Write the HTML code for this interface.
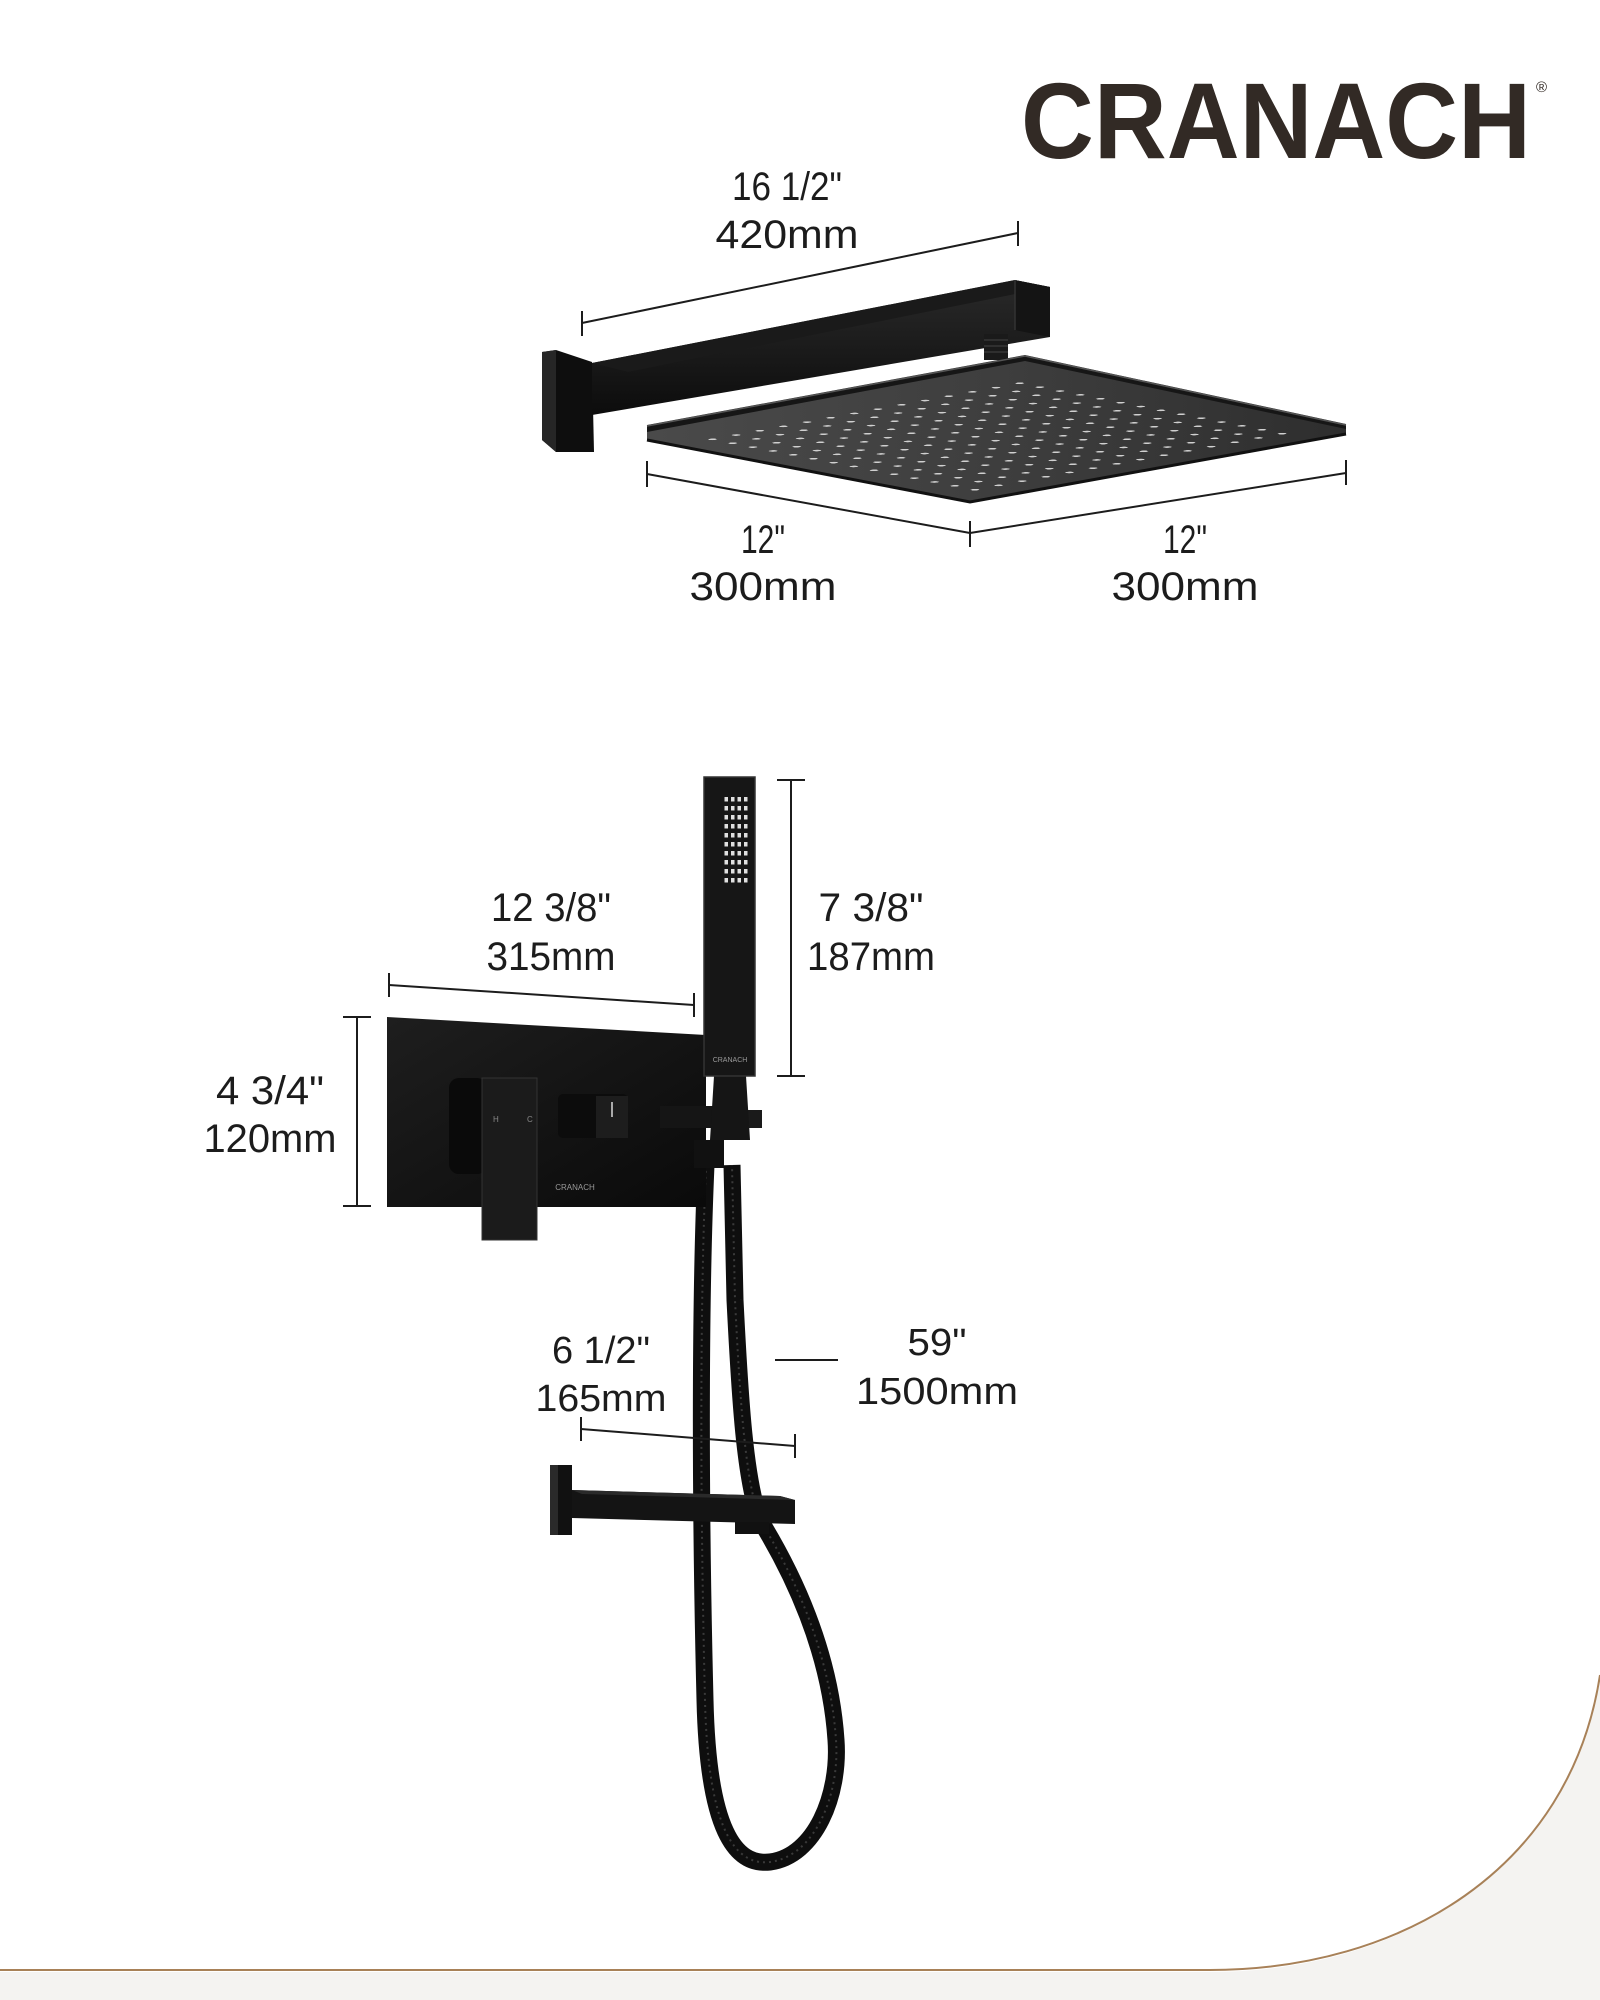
<!DOCTYPE html>
<html><head><meta charset="utf-8">
<style>
html,body{margin:0;padding:0;background:#fff;}
svg{display:block;}
text{font-family:"Liberation Sans",sans-serif;fill:#1c1c1c;}
</style></head>
<body>
<svg width="1600" height="2000" viewBox="0 0 1600 2000" xmlns="http://www.w3.org/2000/svg">
<defs>
  <pattern id="noz" patternUnits="userSpaceOnUse" width="0.0625" height="0.0625">
    <circle cx="0.031" cy="0.031" r="0.0085" fill="#d0d0d0"/>
  </pattern>
  <pattern id="hdots" patternUnits="userSpaceOnUse" x="724" y="796" width="6.5" height="9">
    <rect x="0.5" y="1" width="3.5" height="4.5" fill="#e0e0e0"/>
  </pattern>
  <linearGradient id="armg" x1="0" y1="0" x2="0" y2="1">
    <stop offset="0" stop-color="#2a2a2a"/><stop offset="1" stop-color="#0c0c0c"/>
  </linearGradient>
  <linearGradient id="plateg" x1="0" y1="0" x2="1" y2="1">
    <stop offset="0" stop-color="#1e1e1e"/><stop offset="1" stop-color="#0a0a0a"/>
  </linearGradient>
  <linearGradient id="headg" x1="0" y1="0" x2="1" y2="0">
    <stop offset="0" stop-color="#4a4a4a"/><stop offset="0.5" stop-color="#3e3e3e"/><stop offset="1" stop-color="#2e2e2e"/>
  </linearGradient>
</defs>

<!-- background bottom curve -->
<path d="M0 1972 L1210 1972 C1400 1972 1570 1870 1600 1675 L1600 2000 L0 2000 Z" fill="#f4f3f1"/>
<path d="M0 1970 L1210 1970 C1400 1970 1570 1870 1600 1675" fill="none" stroke="#a88158" stroke-width="2"/>

<!-- Logo -->
<text x="1021" y="158" font-size="108" font-weight="bold" textLength="510" lengthAdjust="spacingAndGlyphs" style="fill:#322a25">CRANACH</text>
<text x="1536" y="92" font-size="15" style="fill:#322a25">®</text>

<!-- ===== Top shower arm & head ===== -->
<g stroke="#1c1c1c" stroke-width="2">
  <line x1="582" y1="323" x2="1018" y2="233"/>
  <line x1="582" y1="311" x2="582" y2="336"/>
  <line x1="1018" y1="221" x2="1018" y2="246"/>
</g>
<text x="787" y="200" font-size="40" text-anchor="middle" textLength="110" lengthAdjust="spacingAndGlyphs">16 1/2"</text>
<text x="787" y="248" font-size="40" text-anchor="middle" textLength="143" lengthAdjust="spacingAndGlyphs">420mm</text>

<polygon points="542,352 556,350 592,362 594,452 556,452 542,440" fill="#0e0e0e"/>
<polygon points="542,352 556,350 556,452 542,440" fill="#262626"/>
<polygon points="592,363 1015,280 1050,287 1050,337 592,415" fill="url(#armg)"/>
<polygon points="592,363 1015,280 1050,287 628,372" fill="#1a1a1a"/>
<polygon points="1015,280 1050,287 1050,337 1015,330" fill="#141414"/>
<line x1="1015" y1="280" x2="1015" y2="330" stroke="#333" stroke-width="1.5"/>
<rect x="984" y="334" width="24" height="26" fill="#1a1a1a"/>
<g stroke="#444" stroke-width="1"><line x1="984" y1="340" x2="1008" y2="340"/><line x1="984" y1="346" x2="1008" y2="346"/><line x1="984" y1="352" x2="1008" y2="352"/></g>
<polygon points="647,425 1025,355 1346,424 1346,434 970,502 647,440" fill="#161616"/>
<polygon points="647,432 1025,361 1346,429 1346,434 970,502 647,440" fill="url(#headg)"/>
<polyline points="647,426 1025,356 1346,425" fill="none" stroke="#555" stroke-width="1.5"/>
<polyline points="647,440 970,502 1346,434" fill="none" stroke="#111" stroke-width="3"/>
<g transform="matrix(323,62,378,-69,647,440)">
  <rect x="0.06" y="0.06" width="0.88" height="0.88" fill="url(#noz)"/>
</g>
<g stroke="#1c1c1c" stroke-width="2">
  <line x1="647" y1="474" x2="970" y2="533"/>
  <line x1="970" y1="533" x2="1346" y2="473"/>
  <line x1="647" y1="461" x2="647" y2="487"/>
  <line x1="970" y1="521" x2="970" y2="547"/>
  <line x1="1346" y1="460" x2="1346" y2="485"/>
</g>
<text x="763" y="553" font-size="40" text-anchor="middle" textLength="44" lengthAdjust="spacingAndGlyphs">12"</text>
<text x="763" y="600" font-size="40" text-anchor="middle" textLength="147" lengthAdjust="spacingAndGlyphs">300mm</text>
<text x="1185" y="553" font-size="40" text-anchor="middle" textLength="44" lengthAdjust="spacingAndGlyphs">12"</text>
<text x="1185" y="600" font-size="40" text-anchor="middle" textLength="147" lengthAdjust="spacingAndGlyphs">300mm</text>

<!-- ===== Mixer / hand shower ===== -->
<path d="M706 1165 C700 1300 700 1500 705 1700 C708 1830 735 1866 770 1862 C815 1856 840 1795 836 1740 C830 1650 792 1572 760 1520 C745 1480 740 1400 735 1300 L732 1165" fill="none" stroke="#0e0e0e" stroke-width="17"/>
<path d="M706 1165 C700 1300 700 1500 705 1700 C708 1830 735 1866 770 1862 C815 1856 840 1795 836 1740 C830 1650 792 1572 760 1520 C745 1480 740 1400 735 1300 L732 1165" fill="none" stroke="#3a3a3a" stroke-width="2" stroke-dasharray="2 4"/>

<polygon points="387,1017 706,1035 706,1207 387,1207" fill="url(#plateg)"/>
<rect x="449" y="1078" width="38" height="96" rx="10" fill="#0a0a0a"/>
<rect x="482" y="1078" width="55" height="162" fill="#1b1b1b"/>
<rect x="482" y="1078" width="55" height="162" fill="none" stroke="#333" stroke-width="1"/>
<text x="493" y="1122" font-size="8" style="fill:#888">H</text>
<text x="527" y="1122" font-size="8" style="fill:#888">C</text>
<rect x="558" y="1094" width="70" height="44" rx="5" fill="#0c0c0c"/>
<rect x="596" y="1096" width="32" height="42" fill="#1d1d1d"/>
<line x1="612" y1="1102" x2="612" y2="1117" stroke="#aaa" stroke-width="2"/>
<text x="575" y="1190" font-size="8" text-anchor="middle" style="fill:#999">CRANACH</text>

<rect x="660" y="1106" width="80" height="22" fill="#151515"/>
<rect x="740" y="1110" width="22" height="18" fill="#1a1a1a"/>
<polygon points="714,1076 746,1076 750,1140 710,1140" fill="#151515"/>
<rect x="694" y="1140" width="30" height="28" fill="#111"/>

<rect x="704" y="777" width="51" height="299" fill="#161616"/>
<rect x="704" y="777" width="51" height="299" fill="none" stroke="#333" stroke-width="1.5"/>
<rect x="724" y="796" width="26" height="91" fill="url(#hdots)"/>
<text x="730" y="1062" font-size="7" text-anchor="middle" style="fill:#999">CRANACH</text>

<rect x="550" y="1465" width="22" height="70" fill="#111"/>
<rect x="550" y="1465" width="8" height="70" fill="#2a2a2a"/>
<polygon points="572,1490 780,1496 795,1500 795,1524 572,1518" fill="#141414"/>
<polygon points="572,1490 780,1496 795,1500 582,1494" fill="#2a2a2a"/>
<rect x="735" y="1522" width="34" height="12" fill="#111"/>

<g stroke="#1c1c1c" stroke-width="2">
  <line x1="389" y1="985" x2="694" y2="1005"/>
  <line x1="389" y1="973" x2="389" y2="997"/>
  <line x1="694" y1="993" x2="694" y2="1017"/>
  <line x1="791" y1="780" x2="791" y2="1076"/>
  <line x1="777" y1="780" x2="805" y2="780"/>
  <line x1="777" y1="1076" x2="805" y2="1076"/>
  <line x1="357" y1="1017" x2="357" y2="1206"/>
  <line x1="343" y1="1017" x2="371" y2="1017"/>
  <line x1="343" y1="1206" x2="371" y2="1206"/>
  <line x1="581" y1="1429" x2="795" y2="1446"/>
  <line x1="581" y1="1417" x2="581" y2="1441"/>
  <line x1="795" y1="1434" x2="795" y2="1458"/>
  <line x1="775" y1="1360" x2="838" y2="1360"/>
</g>
<text x="551" y="921" font-size="40" text-anchor="middle" textLength="120" lengthAdjust="spacingAndGlyphs">12 3/8"</text>
<text x="551" y="970" font-size="40" text-anchor="middle" textLength="129" lengthAdjust="spacingAndGlyphs">315mm</text>
<text x="871" y="921" font-size="40" text-anchor="middle" textLength="105" lengthAdjust="spacingAndGlyphs">7 3/8"</text>
<text x="871" y="970" font-size="40" text-anchor="middle" textLength="128" lengthAdjust="spacingAndGlyphs">187mm</text>
<text x="270" y="1104" font-size="40" text-anchor="middle" textLength="108" lengthAdjust="spacingAndGlyphs">4 3/4"</text>
<text x="270" y="1152" font-size="40" text-anchor="middle" textLength="133" lengthAdjust="spacingAndGlyphs">120mm</text>
<text x="601" y="1363" font-size="38" text-anchor="middle" textLength="98" lengthAdjust="spacingAndGlyphs">6 1/2"</text>
<text x="601" y="1411" font-size="38" text-anchor="middle" textLength="131" lengthAdjust="spacingAndGlyphs">165mm</text>
<text x="937" y="1355" font-size="38" text-anchor="middle" textLength="59" lengthAdjust="spacingAndGlyphs">59"</text>
<text x="937" y="1404" font-size="38" text-anchor="middle" textLength="162" lengthAdjust="spacingAndGlyphs">1500mm</text>
</svg>
</body></html>
